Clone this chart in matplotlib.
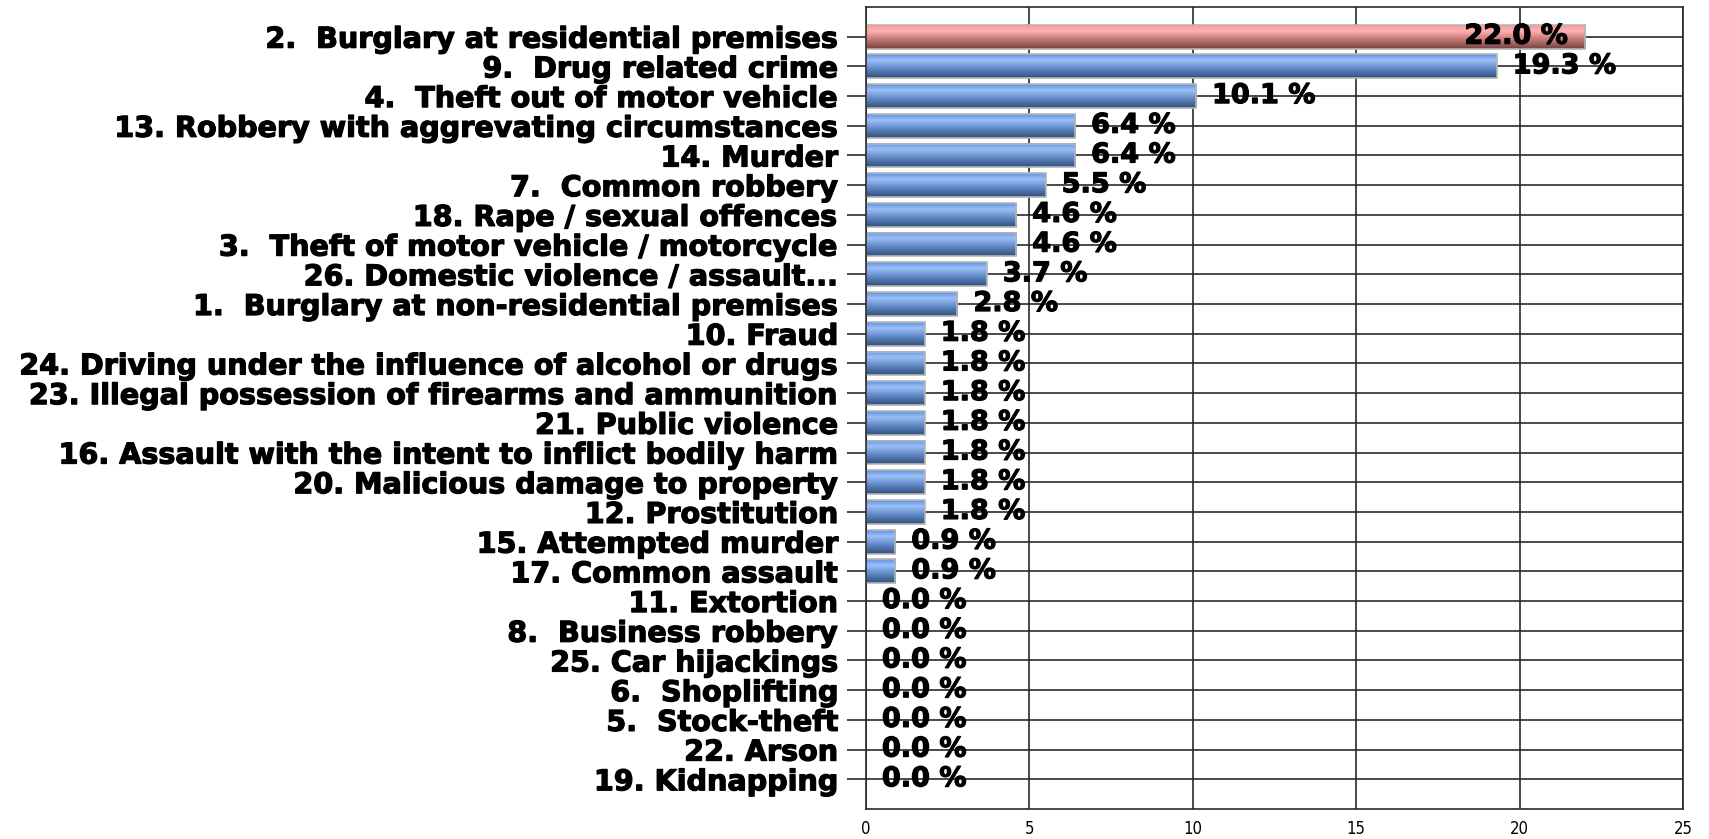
import matplotlib.pyplot as plt
import matplotlib.patheffects as pe
from matplotlib.colors import LinearSegmentedColormap
import numpy as np

# categories from top to bottom, with percentage values
categories = [
    "2.  Burglary at residential premises",
    "9.  Drug related crime",
    "4.  Theft out of motor vehicle",
    "13. Robbery with aggrevating circumstances",
    "14. Murder",
    "7.  Common robbery",
    "18. Rape / sexual offences",
    "3.  Theft of motor vehicle / motorcycle",
    "26. Domestic violence / assault...",
    "1.  Burglary at non-residential premises",
    "10. Fraud",
    "24. Driving under the influence of alcohol or drugs",
    "23. Illegal possession of firearms and ammunition",
    "21. Public violence",
    "16. Assault with the intent to inflict bodily harm",
    "20. Malicious damage to property",
    "12. Prostitution",
    "15. Attempted murder",
    "17. Common assault",
    "11. Extortion",
    "8.  Business robbery",
    "25. Car hijackings",
    "6.  Shoplifting",
    "5.  Stock-theft",
    "22. Arson",
    "19. Kidnapping",
]
values = [22.0, 19.3, 10.1, 6.4, 6.4, 5.5, 4.6, 4.6, 3.7, 2.8,
          1.8, 1.8, 1.8, 1.8, 1.8, 1.8, 1.8, 0.9, 0.9,
          0.0, 0.0, 0.0, 0.0, 0.0, 0.0, 0.0]
xticks = [0, 5, 10, 15, 20, 25]

# cylinder-like gradients (top -> bottom)
blue = LinearSegmentedColormap.from_list(
    "blue", ["#5f93e6", "#9cc0f6", "#7099d6", "#4f73aa", "#33507e"])
red = LinearSegmentedColormap.from_list(
    "red", ["#ff9696", "#ffb2b2", "#d48585", "#a86464", "#744242"])
grad = np.linspace(0, 1, 64).reshape(-1, 1)

heavy = [pe.withStroke(linewidth=0.9, foreground="black")]

n = len(categories)
pos = np.arange(n)[::-1]
h = 0.8

fig = plt.figure(figsize=(17.09, 8.39), dpi=100)
ax = fig.add_axes([0.5067, 0.0358, 0.9848 - 0.5067, 0.9917 - 0.0358])

vmax = max(values)
for y, v in zip(pos, values):
    if v <= 0:
        continue
    cmap = red if v == vmax else blue
    ax.imshow(grad, cmap=cmap, aspect="auto", origin="upper",
              extent=(0, v, y - h / 2, y + h / 2), zorder=2,
              interpolation="bilinear")
    ax.add_patch(plt.Rectangle((0, y - h / 2), v, h, fill=False,
                               edgecolor="#b5b5b5", lw=1.2, zorder=2.5))

for y, v in zip(pos, values):
    label = f"{v:.1f} %"
    if v == vmax:
        off, ha = -17, "right"
    else:
        off, ha = 16, "left"
    ax.annotate(label, (v, y), xytext=(off, 0), textcoords="offset pixels",
                ha=ha, va="center", fontsize=19.5, fontweight="bold",
                family="DejaVu Sans", zorder=5, path_effects=heavy)

ax.set_xlim(0, 25)
ax.set_ylim(-1, n)
ax.set_xticks(xticks)
ax.set_yticks(pos)
ax.set_yticklabels(categories, fontsize=20.6, fontweight="bold",
                   family="DejaVu Sans")
for t in ax.get_yticklabels():
    t.set_path_effects(heavy)
for t in ax.get_xticklabels():
    t.set_fontsize(12)
    t.set_fontstretch("condensed")

ax.set_axisbelow(True)
ax.grid(True, color="#2a2a2a", lw=1.2)
ax.tick_params(axis="y", length=14, width=1.2, color="#2a2a2a", pad=6)
ax.tick_params(axis="x", length=0, pad=8)
for s in ax.spines.values():
    s.set_color("#2a2a2a")
    s.set_linewidth(1.2)

fig.savefig("out.png", dpi=100)
